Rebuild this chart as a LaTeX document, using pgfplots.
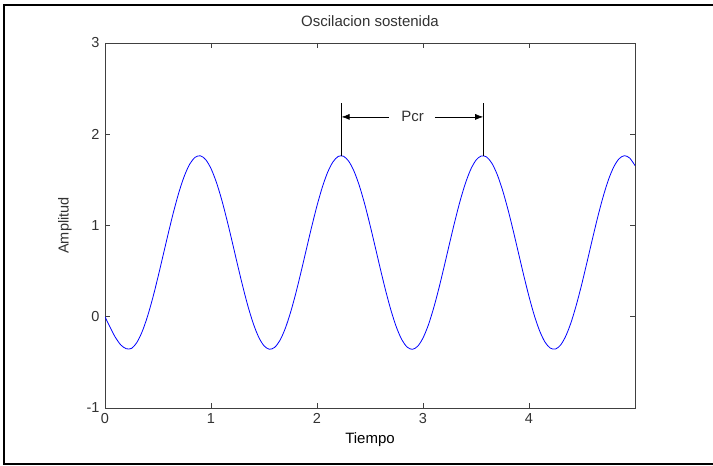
\documentclass[border=0pt]{standalone}
\usepackage{fontspec}
\setmainfont{Liberation Sans}
\usepackage{pgfplots}
\pgfplotsset{compat=1.18}
\usetikzlibrary{arrows.meta}
\definecolor{axgray}{RGB}{64,64,64}
\definecolor{txtgray}{RGB}{50,50,50}
\begin{document}
\begin{tikzpicture}
\useasboundingbox (0,0) rectangle (713pt,466pt);
\draw[line width=2pt,black] (714pt,461pt) -- (3.5pt,461pt) -- (3.5pt,2pt) -- (714pt,2pt);
\begin{axis}[
  at={(105pt,58pt)}, anchor=south west,
  scale only axis, width=530pt, height=365pt,
  xmin=0, xmax=5, ymin=-1, ymax=3,
  xtick={0,1,2,3,4}, ytick={-1,0,1,2,3},
  tick align=inside, major tick length=5pt,
  axis line style={axgray, line width=0.9pt},
  every tick/.style={axgray, line width=0.9pt},
  /pgf/number format/assume math mode=true,
  tick label style={font=\fontsize{14.5}{16}\selectfont, text=txtgray},
  xticklabel style={yshift=-2pt},
  yticklabel style={xshift=-2pt},
  title={Oscilacion sostenida},
  title style={at={(axis description cs:0.5,1)}, anchor=center, yshift=16pt, font=\fontsize{15}{17}\selectfont, text=txtgray},
  xlabel={Tiempo},
  xlabel style={at={(axis description cs:0.5,0)}, anchor=center, yshift=-32pt, font=\fontsize{15}{17}\selectfont, text=black},
  ylabel={Amplitud},
  ylabel style={at={(axis description cs:-0.0755,0.5)}, anchor=center, font=\fontsize{14.5}{16}\selectfont, text=txtgray},
  clip=true,
]
\addplot[blue, line width=0.8pt, smooth] coordinates {
(0.00,0.000) (0.05,-0.120) (0.10,-0.230) (0.15,-0.310) (0.20,-0.350)
(0.25,-0.347) (0.30,-0.283) (0.35,-0.165) (0.40,0.000) (0.45,0.204)
(0.50,0.436) (0.55,0.682) (0.60,0.929) (0.65,1.164) (0.70,1.374)
(0.75,1.547) (0.80,1.674) (0.85,1.747) (0.90,1.764) (0.95,1.722)
(1.00,1.624) (1.05,1.476) (1.10,1.286) (1.15,1.063) (1.20,0.821)
(1.25,0.572) (1.30,0.331) (1.35,0.110) (1.40,-0.078) (1.45,-0.224)
(1.50,-0.318) (1.55,-0.356) (1.60,-0.336) (1.65,-0.260) (1.70,-0.130)
(1.75,0.046) (1.80,0.257) (1.85,0.494) (1.90,0.741) (1.95,0.987)
(2.00,1.217) (2.05,1.419) (2.10,1.582) (2.15,1.696) (2.20,1.757)
(2.25,1.759) (2.30,1.703) (2.35,1.593) (2.40,1.434) (2.45,1.235)
(2.50,1.006) (2.55,0.761) (2.60,0.513) (2.65,0.276) (2.70,0.062)
(2.75,-0.117) (2.80,-0.251) (2.85,-0.332) (2.90,-0.357) (2.95,-0.323)
(3.00,-0.233) (3.05,-0.092) (3.10,0.094) (3.15,0.312) (3.20,0.553)
(3.25,0.801) (3.30,1.044) (3.35,1.269) (3.40,1.462) (3.45,1.614)
(3.50,1.716) (3.55,1.762) (3.60,1.751) (3.65,1.682) (3.70,1.559)
(3.75,1.389) (3.80,1.182) (3.85,0.949) (3.90,0.702) (3.95,0.455)
(4.00,0.222) (4.05,0.015) (4.10,-0.154) (4.15,-0.276) (4.20,-0.343)
(4.25,-0.354) (4.30,-0.307) (4.35,-0.204) (4.40,-0.051) (4.45,0.144)
(4.50,0.368) (4.55,0.612) (4.60,0.860) (4.65,1.100) (4.70,1.318)
(4.75,1.503) (4.80,1.643) (4.85,1.732) (4.90,1.765) (4.95,1.739)
(5.00,1.657)
};
\addplot[black, line width=0.7pt] coordinates {(2.232,1.765) (2.232,2.34)};
\addplot[black, line width=0.7pt] coordinates {(3.568,1.765) (3.568,2.34)};
\draw[black, line width=0.7pt, -{Latex[length=8pt,width=6pt]}] (axis cs:2.679,2.19) -- (axis cs:2.232,2.19);
\draw[black, line width=0.7pt, -{Latex[length=8pt,width=6pt]}] (axis cs:3.111,2.19) -- (axis cs:3.568,2.19);
\node[font=\fontsize{15}{17}\selectfont, text=txtgray] at (axis cs:2.903,2.20) {Pcr};
\end{axis}
\end{tikzpicture}
\end{document}
